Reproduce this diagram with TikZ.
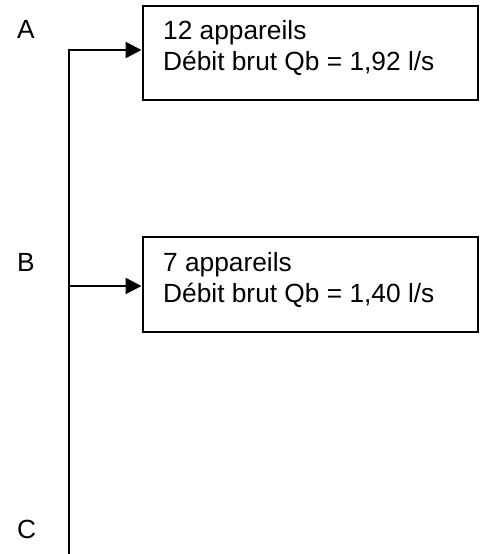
\documentclass[tikz,border=0pt]{standalone}
\usepackage{fontspec}
\setmainfont{Liberation Sans}
\usetikzlibrary{arrows.meta}
\begin{document}
\begin{tikzpicture}[x=1pt,y=1pt,
  txt/.style={anchor=base west,inner sep=0pt,font=\fontsize{26.3}{31}\selectfont},
  boxnode/.style={draw,line width=2pt,anchor=north west,inner sep=0pt,minimum width=335.5pt},
  wire/.style={line width=2.4pt,line join=miter},
  feed/.style={wire,-{Triangle[length=16pt,width=16pt]}}]
\useasboundingbox (0,0) rectangle (485,-554);
% boxes
\node[boxnode,minimum height=94pt] (box1) at (141.5,-5) {};
\node[boxnode,minimum height=95pt] (box2) at (141.5,-236) {};
% box texts
\node[txt] (t1a) at (163,-39) {12 appareils};
\node[txt] (t1b) at (163,-70.5) {Débit brut Qb = 1,92 l/s};
\node[txt] (t2a) at (163,-271) {7 appareils};
\node[txt] (t2b) at (163,-302) {Débit brut Qb = 1,40 l/s};
% labels
\node[txt] (lA) at (17,-38) {A};
\node[txt] (lB) at (17,-271.5) {B};
\node[txt] (lC) at (17,-538) {C};
% trunk
\coordinate (top) at (69,-50);
\coordinate (jB) at (69,-286);
\coordinate (bot) at (69,-554);
\draw[feed] (bot) -- (top) -- (top -| box1.west);
\draw[feed] (jB) -- (jB -| box2.west);
\end{tikzpicture}
\end{document}
